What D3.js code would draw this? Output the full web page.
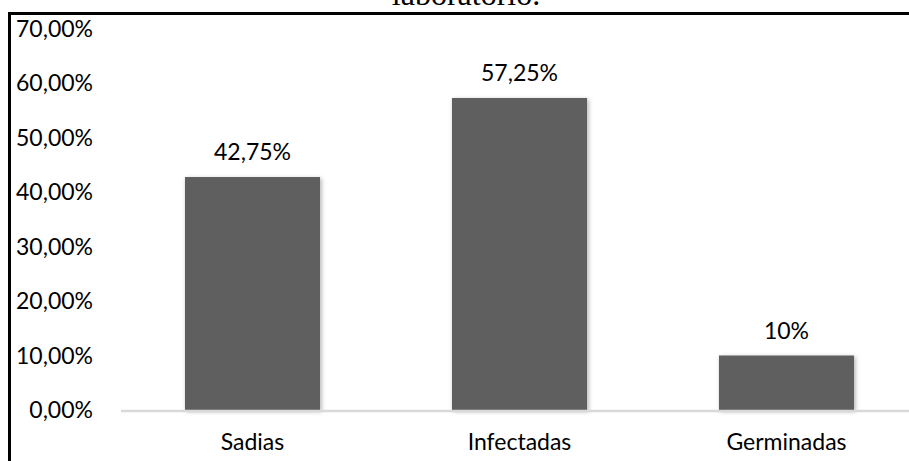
<!DOCTYPE html>
<html>
<head>
<meta charset="utf-8">
<script src="https://cdn.jsdelivr.net/npm/d3@7"></script>
<style>
  html, body { margin: 0; padding: 0; background: #fff; }
  svg { display: block; }
</style>
</head>
<body>
<svg id="chart" width="909" height="461"></svg>
<script>
// Seed condition after laboratory incubation
const categories = ["Sadias", "Infectadas", "Germinadas"];
const values = [42.75, 57.25, 10];
const valueLabels = ["42,75%", "57,25%", "10%"];
const tickValues = [0, 10, 20, 30, 40, 50, 60, 70];
const tickLabels = ["0,00%", "10,00%", "20,00%", "30,00%", "40,00%", "50,00%", "60,00%", "70,00%"];
const titleText = "laboratório.";

const svg = d3.select("#chart");
const W = 909, H = 461;
const font = "'Liberation Sans Narrow', Lato, sans-serif";
const fontSize = 23;

const x = d3.scaleBand().domain(categories).range([119, 920]).paddingInner(0.494).paddingOuter(0.247);
const y = d3.scaleLinear().domain([0, 70]).range([410, 28.5]);

// drop shadow for bars
const defs = svg.append("defs");
const f = defs.append("filter").attr("id", "shadow").attr("x", "-10%").attr("y", "-10%").attr("width", "130%").attr("height", "130%");
f.append("feDropShadow").attr("dx", 1.5).attr("dy", 1.5).attr("stdDeviation", 2)
  .attr("flood-color", "#000").attr("flood-opacity", 0.3);

// caption line above the frame
svg.append("text")
  .attr("x", 466).attr("y", 4.5)
  .attr("text-anchor", "middle")
  .attr("font-family", "'Liberation Serif', 'Times New Roman', serif")
  .attr("font-size", 32)
  .attr("fill", "#000")
  .text(titleText);

// frame
svg.append("line").attr("x1", 8).attr("x2", W).attr("y1", 13.5).attr("y2", 13.5)
  .attr("stroke", "#000").attr("stroke-width", 3);
svg.append("line").attr("x1", 9.5).attr("x2", 9.5).attr("y1", 12).attr("y2", H)
  .attr("stroke", "#000").attr("stroke-width", 3);

// y tick labels
svg.append("g").selectAll("text")
  .data(tickValues)
  .join("text")
  .attr("x", 93)
  .attr("y", d => y(d))
  .attr("dy", "0.36em")
  .attr("text-anchor", "end")
  .attr("font-family", font)
  .attr("font-size", fontSize)
  .attr("fill", "#000")
  .text((d, i) => tickLabels[i]);

// bars
svg.append("g").selectAll("rect")
  .data(values)
  .join("rect")
  .attr("x", (d, i) => x(categories[i]))
  .attr("y", d => y(d))
  .attr("width", x.bandwidth())
  .attr("height", d => y(0) - y(d))
  .attr("fill", "#5f5f5f")
  .attr("filter", "url(#shadow)");

// baseline
svg.append("line").attr("x1", 121).attr("x2", W).attr("y1", y(0) + 1).attr("y2", y(0) + 1)
  .attr("stroke", "#d9d9d9").attr("stroke-width", 2.5);

// value labels
svg.append("g").selectAll("text")
  .data(values)
  .join("text")
  .attr("x", (d, i) => x(categories[i]) + x.bandwidth() / 2)
  .attr("y", d => y(d) - 17)
  .attr("text-anchor", "middle")
  .attr("font-family", font)
  .attr("font-size", fontSize)
  .attr("fill", "#000")
  .text((d, i) => valueLabels[i]);

// category labels
svg.append("g").selectAll("text")
  .data(categories)
  .join("text")
  .attr("x", d => x(d) + x.bandwidth() / 2)
  .attr("y", 442)
  .attr("dy", "0.36em")
  .attr("text-anchor", "middle")
  .attr("font-family", font)
  .attr("font-size", fontSize)
  .attr("fill", "#000")
  .text(d => d);
</script>
</body>
</html>
